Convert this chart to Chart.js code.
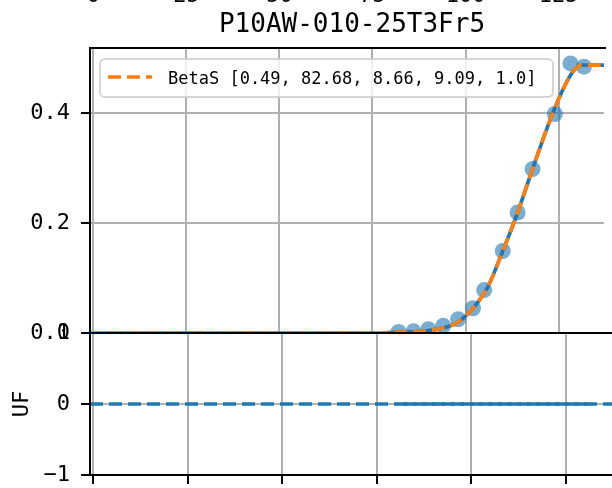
<!DOCTYPE html>
<html>
<head>
<meta charset="utf-8">
<script src="https://cdn.jsdelivr.net/npm/chart.js@4.4.0/dist/chart.umd.min.js"></script>
<style>
html, body { margin: 0; padding: 0; background: #fff; overflow: hidden; width: 612px; height: 488px; }
#fitCanvas { position: absolute; left: 0; top: 0; }
#ufCanvas { position: absolute; left: 0; top: 300px; }
</style>
</head>
<body>
<canvas id="fitCanvas" width="612" height="360"></canvas>
<canvas id="ufCanvas" width="612" height="220"></canvas>
<script>
// Sample and fit data
var titleText = 'P10AW-010-25T3Fr5';
var fitLabel = 'BetaS [0.49, 82.68, 8.66, 9.09, 1.0]';
var xTicks = [0, 25, 50, 75, 100, 125];

var obsX = [82, 86, 90, 94, 98, 102, 105, 110, 114, 118, 124, 128.2, 131.8];
var obsY = [0.002, 0.003, 0.007, 0.013, 0.025, 0.045, 0.078, 0.149, 0.219, 0.298, 0.398, 0.490, 0.484];

var curveX = [-0.9, 76, 82, 86, 90, 94, 98, 102, 106, 110, 114, 118, 123, 127, 129.2, 131.3, 137.2];
var curveY = [0, 0, 0.0015, 0.002, 0.0045, 0.009, 0.02, 0.045, 0.084, 0.149, 0.219, 0.298, 0.392, 0.454, 0.478, 0.487, 0.487];

var ufResid = [0, 0, 0, 0, 0, 0, 0, 0, 0, 0, 0, 0, 0];
var ufZeroX = [-0.9, 137.2];
var ufZeroY = [0, 0];

var X_MIN = -0.9, X_MAX = 137.2;
var FONT = 'DejaVu Sans Mono';
var BLUE = '#1f77b4', ORANGE = '#ff7f0e', GRID = '#b0b0b0';

function toPoints(xs, ys) {
    return xs.map(function(x, i) { return { x: x, y: ys[i] }; });
}

function drawSpines(chart, withTop) {
    var ctx = chart.ctx, a = chart.chartArea;
    ctx.save();
    ctx.strokeStyle = '#000';
    ctx.lineWidth = 2;
    ctx.beginPath();
    ctx.moveTo(a.left, a.top - 1);
    ctx.lineTo(a.left, a.bottom + 1);
    ctx.moveTo(a.left - 1, a.bottom);
    ctx.lineTo(a.right + 2, a.bottom);
    if (withTop) {
        ctx.moveTo(a.left - 1, a.top);
        ctx.lineTo(a.right + 2, a.top);
    }
    ctx.stroke();
    ctx.restore();
}

// Spines, title, legend and the clipped labels of the row above
var fitDecor = {
    id: 'fitDecor',
    afterDatasetsDraw: function(chart) {
        drawSpines(chart, true);
    },
    afterDraw: function(chart) {
        var ctx = chart.ctx, a = chart.chartArea, xs = chart.scales.x;
        ctx.save();
        ctx.fillStyle = '#000';

        // tick labels of the panel above, cut by the top edge
        ctx.font = '22px "' + FONT + '"';
        ctx.textAlign = 'center';
        ctx.textBaseline = 'alphabetic';
        xTicks.forEach(function(v) {
            ctx.fillText(String(v), xs.getPixelForValue(v), 2);
        });

        // title
        ctx.font = '26px "' + FONT + '"';
        ctx.fillText(titleText, (a.left + 614) / 2, 32);

        // legend box
        var bx = 100, by = 59, bw = 453, bh = 38, r = 5;
        ctx.beginPath();
        ctx.moveTo(bx + r, by);
        ctx.arcTo(bx + bw, by, bx + bw, by + bh, r);
        ctx.arcTo(bx + bw, by + bh, bx, by + bh, r);
        ctx.arcTo(bx, by + bh, bx, by, r);
        ctx.arcTo(bx, by, bx + bw, by, r);
        ctx.closePath();
        ctx.fillStyle = 'rgba(255,255,255,0.8)';
        ctx.fill();
        ctx.strokeStyle = 'rgba(204,204,204,0.8)';
        ctx.lineWidth = 2;
        ctx.stroke();

        ctx.strokeStyle = ORANGE;
        ctx.lineWidth = 3.7;
        ctx.setLineDash([13, 6]);
        ctx.beginPath();
        ctx.moveTo(108, 77);
        ctx.lineTo(152, 77);
        ctx.stroke();
        ctx.setLineDash([]);

        ctx.fillStyle = '#000';
        ctx.font = '17px "' + FONT + '"';
        ctx.textAlign = 'left';
        ctx.fillText(fitLabel, 168, 84);
        ctx.restore();
    }
};

var ufDecor = {
    id: 'ufDecor',
    afterDatasetsDraw: function(chart) {
        drawSpines(chart, true);
    }
};

var tickFont = { family: FONT, size: 22 };

var fitChart = new Chart(document.getElementById('fitCanvas'), {
    type: 'scatter',
    data: {
        datasets: [{
            label: 'data',
            data: toPoints(obsX, obsY),
            pointRadius: 8,
            pointHoverRadius: 8,
            pointBackgroundColor: 'rgba(31,119,180,0.6)',
            pointBorderWidth: 0,
            order: 3
        }, {
            label: 'fit',
            data: toPoints(curveX, curveY),
            showLine: true,
            pointRadius: 0,
            borderColor: BLUE,
            borderWidth: 3.7,
            cubicInterpolationMode: 'monotone',
            order: 2
        }, {
            label: fitLabel,
            data: toPoints(curveX, curveY),
            showLine: true,
            pointRadius: 0,
            borderColor: ORANGE,
            borderWidth: 3.7,
            borderDash: [13, 6],
            cubicInterpolationMode: 'monotone',
            order: 1
        }]
    },
    options: {
        responsive: false,
        animation: false,
        layout: { padding: { top: 48, left: 0, right: 0, bottom: 0 } },
        plugins: { legend: { display: false }, tooltip: { enabled: false } },
        scales: {
            x: {
                type: 'linear',
                min: X_MIN,
                max: X_MAX,
                afterFit: function(s) { s.height = 27; },
                ticks: { display: false, stepSize: 25, includeBounds: false },
                grid: { color: GRID, lineWidth: 2, drawTicks: false },
                border: { display: false }
            },
            y: {
                min: 0,
                max: 0.518,
                afterFit: function(s) { s.width = 90; },
                ticks: {
                    stepSize: 0.2,
                    includeBounds: false,
                    padding: 11,
                    color: '#000',
                    font: tickFont,
                    callback: function(v) { return v.toFixed(1); }
                },
                grid: { color: GRID, lineWidth: 2, tickLength: 9, tickColor: '#000', tickWidth: 2 },
                border: { display: false }
            }
        }
    },
    plugins: [fitDecor]
});

var ufChart = new Chart(document.getElementById('ufCanvas'), {
    type: 'scatter',
    data: {
        datasets: [{
            label: 'zero',
            data: toPoints(ufZeroX, ufZeroY),
            showLine: true,
            pointRadius: 0,
            borderColor: BLUE,
            borderWidth: 3.7,
            borderDash: [13, 6]
        }, {
            label: 'UF',
            data: toPoints(obsX, ufResid),
            showLine: true,
            pointRadius: 0,
            borderColor: BLUE,
            borderWidth: 3.7,
            borderDash: [13, 6]
        }]
    },
    options: {
        responsive: false,
        animation: false,
        layout: { padding: { top: 33, left: 0, right: 0, bottom: 0 } },
        plugins: { legend: { display: false }, tooltip: { enabled: false } },
        scales: {
            x: {
                type: 'linear',
                min: X_MIN,
                max: X_MAX,
                afterFit: function(s) { s.height = 45; },
                ticks: { stepSize: 25, includeBounds: false, padding: 8, color: '#000', font: tickFont },
                grid: { color: GRID, lineWidth: 2, tickLength: 9, tickColor: '#000', tickWidth: 2 },
                border: { display: false }
            },
            y: {
                min: -1,
                max: 1,
                afterFit: function(s) { s.width = 90; },
                title: {
                    display: true,
                    text: 'UF',
                    color: '#000',
                    font: { family: FONT, size: 22 },
                    padding: { top: 9, bottom: 0 }
                },
                ticks: {
                    stepSize: 1,
                    padding: 11,
                    color: '#000',
                    font: tickFont,
                    callback: function(v) { return v < 0 ? '\u2212' + Math.abs(v) : String(v); }
                },
                grid: { color: GRID, lineWidth: 2, tickLength: 9, tickColor: '#000', tickWidth: 2 },
                border: { display: false }
            }
        }
    },
    plugins: [ufDecor]
});
</script>
</body>
</html>
